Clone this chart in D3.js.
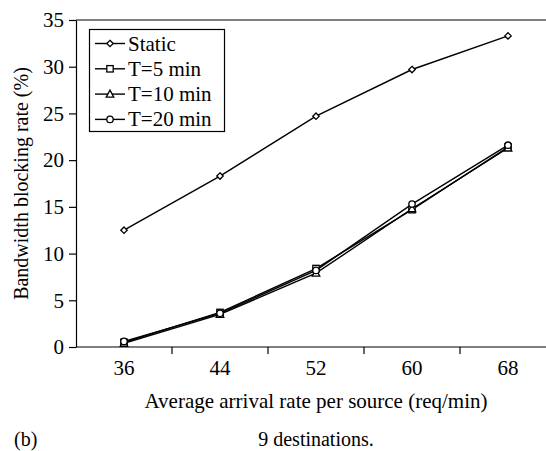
<!DOCTYPE html>
<html><head><meta charset="utf-8">
<script src="https://cdn.jsdelivr.net/npm/d3@7"></script>
<style>body{margin:0;background:#fff}svg{display:block}
svg text{font-family:'Liberation Serif','Times New Roman',Times,'DejaVu Serif',serif !important;fill:#000}</style>
</head><body>
<svg id="c" width="546" height="451"></svg>
<script>
const categories = ["36","44","52","60","68"];
const staticVals = [12.5, 18.3, 24.7, 29.7, 33.3];
const t5Vals = [0.5, 3.7, 8.4, 14.7, 21.4];
const t10Vals = [0.4, 3.5, 7.9, 14.8, 21.3];
const t20Vals = [0.6, 3.6, 8.2, 15.3, 21.6];
const yTicks = [0,5,10,15,20,25,30,35];
const seriesNames = ["Static","T=5 min","T=10 min","T=20 min"];
const markers = ["diamond","square","triangle","circle"];

const FONT = "'Liberation Serif','Times New Roman',Times,'DejaVu Serif',serif";
const svg = d3.select("#c");
const L = 76, T = 20, R = 556, B = 347;
const x = d3.scaleBand().domain(categories).range([L, R]).padding(0);
const y = d3.scaleLinear().domain([0, 35]).range([B, T]);
const FS = 21;

svg.append("line").attr("x1",L).attr("x2",R).attr("y1",T).attr("y2",T).attr("stroke","#000").attr("stroke-width",1.2);

// y axis
const ya = svg.append("g").attr("transform",`translate(${L},0)`)
  .call(d3.axisLeft(y).tickValues(yTicks).tickSize(7).tickPadding(5).tickSizeOuter(0));
ya.attr("font-family",FONT);
ya.select(".domain").attr("stroke","#000").attr("stroke-width",1.2);
ya.selectAll(".tick line").attr("stroke","#000").attr("stroke-width",1.2);
ya.selectAll("text").attr("font-size",FS).attr("font-family",FONT);

// x axis
const xa = svg.append("g").attr("transform",`translate(0,${B})`)
  .call(d3.axisBottom(x).tickSize(0).tickPadding(13).tickSizeOuter(0));
xa.attr("font-family",FONT);
xa.select(".domain").remove();
xa.selectAll("text").attr("font-size",FS).attr("font-family",FONT);
svg.append("line").attr("x1",L).attr("x2",R).attr("y1",B).attr("y2",B).attr("stroke","#000").attr("stroke-width",1.2);
svg.append("g").selectAll("line").data(categories).join("line")
  .attr("x1",d=>x(d)+x.bandwidth()).attr("x2",d=>x(d)+x.bandwidth())
  .attr("y1",B).attr("y2",B+7).attr("stroke","#000").attr("stroke-width",1.2);

function txt(xx, yy, s, anchor, fs){
  return svg.append("text").attr("x",xx).attr("y",yy).attr("text-anchor",anchor||"start")
    .attr("font-size",fs||FS).attr("font-family",FONT).text(s);
}
txt(316, 408, "Average arrival rate per source (req/min)", "middle");
svg.append("text").attr("transform",`translate(28,${(T+B)/2}) rotate(-90)`).attr("text-anchor","middle")
  .attr("font-size",20).attr("font-family",FONT).text("Bandwidth blocking rate (%)");
txt(14, 446, "(b)", "start", 20);
txt(316, 446, "9 destinations.", "middle", 20);

function drawMarker(g, type, cx, cy){
  const s = 3.2;
  if(type==="diamond") g.append("path").attr("d",`M${cx},${cy-s}L${cx+s},${cy}L${cx},${cy+s}L${cx-s},${cy}Z`);
  else if(type==="square") g.append("rect").attr("x",cx-3.2).attr("y",cy-3.2).attr("width",6.4).attr("height",6.4);
  else if(type==="triangle") g.append("path").attr("d",`M${cx},${cy-4}L${cx+3.8},${cy+3}L${cx-3.8},${cy+3}Z`);
  else g.append("circle").attr("cx",cx).attr("cy",cy).attr("r",3.2);
}

const allSeries = [staticVals, t5Vals, t10Vals, t20Vals];
const line = d3.line().x((d,i)=>x(categories[i])+x.bandwidth()/2).y(d=>y(d));
allSeries.forEach(vals=>{
  svg.append("path").datum(vals).attr("d",line).attr("fill","none").attr("stroke","#000").attr("stroke-width",1.4);
});
allSeries.forEach((vals, si)=>{
  const g = svg.append("g").attr("fill","#fff").attr("stroke","#000").attr("stroke-width",1.3);
  vals.forEach((v,i)=>drawMarker(g, markers[si], x(categories[i])+x.bandwidth()/2, y(v)));
});

// legend
const lg = svg.append("g");
lg.append("rect").attr("x",89.5).attr("y",29.5).attr("width",135).attr("height",102).attr("fill","#fff").attr("stroke","#000").attr("stroke-width",1.2);
seriesNames.forEach((n,i)=>{
  const yy = 43.5 + i*25.3;
  lg.append("line").attr("x1",95).attr("x2",125).attr("y1",yy).attr("y2",yy).attr("stroke","#000").attr("stroke-width",1.4);
  const g = lg.append("g").attr("fill","#fff").attr("stroke","#000").attr("stroke-width",1.3);
  drawMarker(g, markers[i], 110, yy);
  lg.append("text").attr("x",128).attr("y",yy+7).attr("font-size",21).attr("font-family",FONT).text(n);
});
</script>
</body></html>
